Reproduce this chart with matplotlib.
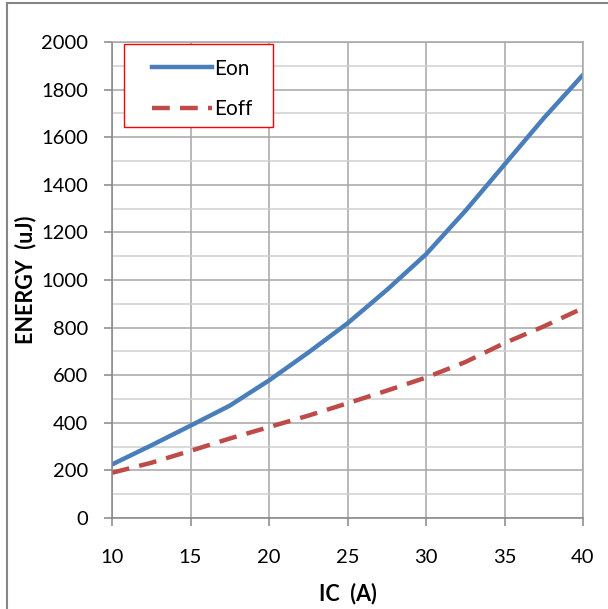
import matplotlib.pyplot as plt
from matplotlib.lines import Line2D
from matplotlib.patches import Rectangle

plt.rcParams['font.family'] = ['Lato', 'DejaVu Sans']

ic = [10, 12.5, 15, 17.5, 20, 22.5, 25, 27.5, 30, 32.5, 35, 37.5, 40]
eon = [225, 305, 388, 472, 578, 695, 818, 958, 1108, 1290, 1485, 1680, 1862]
eoff = [190, 232, 282, 334, 382, 430, 482, 535, 590, 655, 735, 805, 882]

fig = plt.figure(figsize=(6.08, 6.09), dpi=100)
ax = fig.add_axes([112 / 608, 1 - 518 / 609, (583 - 112) / 608, (518 - 42) / 609])

ax.plot(ic, eon, color="#4A7EBB", lw=3.2, label="Eon", solid_joinstyle="round")
ax.plot(ic, eoff, color="#BE4B48", lw=3.2, ls=(0, (4, 2.3)), label="Eoff",
        dash_joinstyle="round")

ax.set_xlim(10, 40)
ax.set_ylim(0, 2000)
ax.set_xticks(range(10, 41, 5))
ax.set_yticks(range(0, 2001, 200))
ax.set_yticks(range(100, 2000, 200), minor=True)
ax.grid(True, which="major", color="#A6A6A6", lw=1.1)
ax.grid(True, which="minor", axis="y", color="#D0D0D0", lw=1.1)
ax.set_axisbelow(True)
for s in ax.spines.values():
    s.set_color("#A6A6A6")
    s.set_linewidth(1.1)
ax.spines["left"].set_color("#868686")
ax.spines["bottom"].set_color("#868686")
ax.tick_params(which="major", length=6, color="#868686", labelsize=14.5, width=1.1)
ax.tick_params(axis="y", pad=11)
ax.tick_params(which="minor", length=0)
ax.tick_params(axis="x", pad=16)

ax.set_xlabel("IC  (A)", fontsize=15.5, fontweight="bold")
ax.set_ylabel("ENERGY  (uJ)", fontsize=15.5, fontweight="bold")
ax.xaxis.set_label_coords(0.5, -0.136)
ax.yaxis.set_label_coords(-0.161, 0.5)

# legend box (red frame), then the entries inside it
ax.add_patch(Rectangle((12 / 471, 391 / 476), 149 / 471, 83 / 476, transform=ax.transAxes,
                       facecolor="white", edgecolor="#FF0000", lw=1.0, zorder=5))
leg = ax.legend(loc="upper left", bbox_to_anchor=(40 / 471, 0.965), fontsize=15,
                frameon=False, handlelength=2.9, borderpad=0, labelspacing=1.0,
                handletextpad=0.1, borderaxespad=0)
leg.set_zorder(6)

# outer chart border
fig.add_artist(Line2D([7 / 608, 7 / 608], [0, 1 - 3 / 609], color="#868686", lw=1.5))
fig.add_artist(Line2D([7 / 608, 1], [1 - 3 / 609, 1 - 3 / 609], color="#868686", lw=1.5))

fig.savefig("out.png", dpi=100)
